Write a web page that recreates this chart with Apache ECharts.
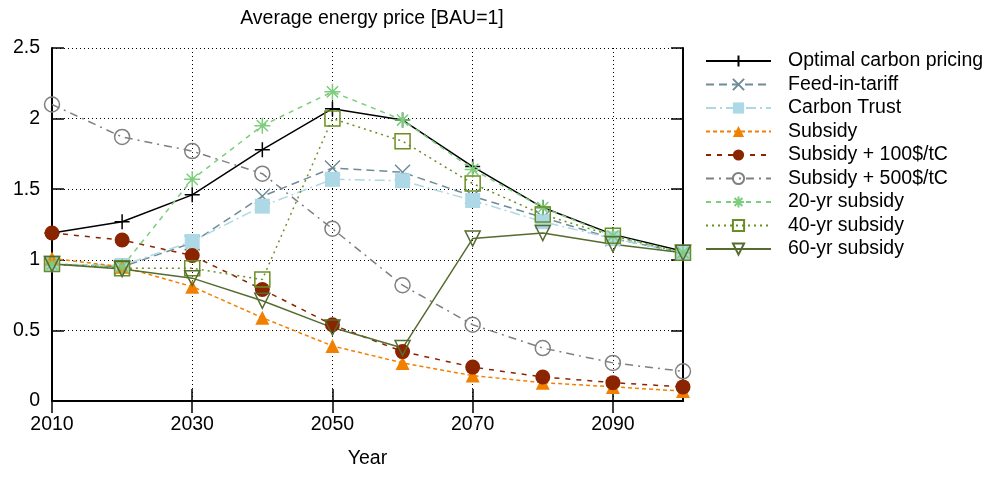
<!DOCTYPE html>
<html>
<head>
<meta charset="utf-8">
<script src="https://cdn.jsdelivr.net/npm/echarts@6/dist/echarts.min.js"></script>
<style>html,body{margin:0;padding:0;background:#fff}#c{width:984px;height:478px}</style>
</head>
<body>
<div id="c"></div>
<script>
const years = ['2010','2020','2030','2040','2050','2060','2070','2080','2090','2100'];
const yTicks = [0, 0.5, 1, 1.5, 2, 2.5];
const optimal     = [1.19, 1.27, 1.46, 1.78, 2.07, 1.99, 1.66, 1.37, 1.18, 1.06];
const feedIn      = [0.97, 0.95, 1.12, 1.45, 1.65, 1.62, 1.45, 1.30, 1.15, 1.05];
const carbonTrust = [0.97, 0.96, 1.13, 1.38, 1.57, 1.56, 1.42, 1.27, 1.15, 1.05];
const subsidy     = [1.01, 0.95, 0.81, 0.59, 0.39, 0.27, 0.18, 0.13, 0.10, 0.07];
const sub100      = [1.19, 1.14, 1.03, 0.79, 0.54, 0.35, 0.24, 0.17, 0.13, 0.10];
const sub500      = [2.10, 1.87, 1.77, 1.61, 1.22, 0.82, 0.54, 0.375, 0.27, 0.21];
const yr20        = [0.97, 0.95, 1.57, 1.95, 2.19, 1.99, 1.64, 1.37, 1.17, 1.05];
const yr40        = [0.97, 0.94, 0.94, 0.86, 2.00, 1.84, 1.54, 1.32, 1.17, 1.05];
const yr60        = [0.97, 0.935, 0.87, 0.71, 0.52, 0.375, 1.15, 1.19, 1.11, 1.05];

const FONT = '"Liberation Sans", Arial, sans-serif';
const FS = 19.5;
const CLEAR = 'rgba(0,0,0,0)';

function mk(name, data, color, lineType, symbol, size, filled) {
  return {
    name: name, type: 'line', data: data, symbol: symbol, symbolSize: size,
    showAllSymbol: true,
    lineStyle: { color: color, width: 1.5, type: lineType },
    itemStyle: filled ? { color: color, borderColor: color, borderWidth: 0 }
                      : { color: CLEAR, borderColor: color, borderWidth: 1.5 },
    emphasis: { disabled: true },
    animation: false
  };
}

const PLUS = 'path://M5,0 L5,10 M0,5 L10,5';
const XMARK = 'path://M0,0 L10,10 M10,0 L0,10';
const STAR = 'path://M5,0 L5,10 M0,5 L10,5 M1.5,1.5 L8.5,8.5 M8.5,1.5 L1.5,8.5';
const OSQ = 'path://M0,0 L10,0 L10,10 L0,10 Z';
const OCIRC = 'path://M10,5 A5,5 0 1 1 0,5 A5,5 0 1 1 10,5 Z';
const DTRI = 'path://M0,0 L10,0 L5,8.66 Z';

const series = [
  mk('Optimal carbon pricing', optimal, '#000000', 'solid', PLUS, 15, false),
  mk('Feed-in-tariff', feedIn, '#6f8c98', [8, 5], XMARK, 15, false),
  mk('Carbon Trust', carbonTrust, '#add8e6', [10, 4, 2, 4], 'rect', 15, true),
  mk('Subsidy', subsidy, '#f28000', [4, 3], 'triangle', 14, true),
  mk('Subsidy + 100$/tC', sub100, '#8b2500', [5, 6], 'circle', 15, true),
  mk('Subsidy + 500$/tC', sub500, '#808080', [8, 5, 2, 5], OCIRC, 15, false),
  mk('20-yr subsidy', yr20, '#7ccd7c', [5, 5], STAR, 16, false),
  mk('40-yr subsidy', yr40, '#6b8e23', [2, 4], OSQ, 15, false),
  mk('60-yr subsidy', yr60, '#556b2f', 'solid', DTRI, 15, false)
];

const chart = echarts.init(document.getElementById('c'), null, { renderer: 'canvas' });
const xCommon = {
  type: 'category', data: years, boundaryGap: false,
  axisLine: { show: true, lineStyle: { color: '#000', width: 2 } },
  axisTick: { show: true, inside: true, length: 12, interval: 1, lineStyle: { color: '#000', width: 1.5 } }
};
chart.setOption({
  animation: false,
  textStyle: { fontFamily: FONT },
  title: {
    text: 'Average energy price [BAU=1]', left: 367, top: 4, textAlign: 'center',
    textStyle: { fontFamily: FONT, fontSize: FS, fontWeight: 'normal', color: '#000' }
  },
  grid: { left: 52, right: 301, top: 48, bottom: 77 },
  legend: {
    orient: 'vertical', left: 700, top: 46,
    itemWidth: 65, itemHeight: 14, itemGap: 3.5,
    textStyle: { fontFamily: FONT, fontSize: FS, color: '#000', padding: [0, 0, 0, 12] },
    data: series.map(s => s.name)
  },
  xAxis: [
    Object.assign({}, xCommon, {
      position: 'bottom',
      name: 'Year', nameLocation: 'middle', nameGap: 48,
      nameTextStyle: { fontFamily: FONT, fontSize: FS, color: '#000' },
      axisLabel: { interval: 1, margin: 14, fontFamily: FONT, fontSize: FS, color: '#000',
        formatter: (v, i) => (i === years.length - 1 ? '' : v) },
      splitLine: { show: true, interval: 1, lineStyle: { color: '#000', type: [1, 3], width: 1 } }
    }),
    Object.assign({}, xCommon, {
      position: 'top', axisLabel: { show: false }, splitLine: { show: false }
    })
  ],
  yAxis: [
    {
      type: 'value', min: yTicks[0], max: yTicks[yTicks.length - 1], interval: 0.5, position: 'left',
      axisLine: { show: true, lineStyle: { color: '#000', width: 2 } },
      axisTick: { show: true, inside: true, length: 12, lineStyle: { color: '#000', width: 1.5 } },
      axisLabel: { margin: 12, fontFamily: FONT, fontSize: FS, color: '#000' },
      splitLine: { show: true, lineStyle: { color: '#000', type: [1, 3], width: 1 } }
    },
    {
      type: 'value', min: yTicks[0], max: yTicks[yTicks.length - 1], interval: 0.5, position: 'right',
      axisLine: { show: true, lineStyle: { color: '#000', width: 2 } },
      axisTick: { show: true, inside: true, length: 12, lineStyle: { color: '#000', width: 1.5 } },
      axisLabel: { show: false }, splitLine: { show: false }
    }
  ],
  series: series
});
</script>
</body>
</html>
